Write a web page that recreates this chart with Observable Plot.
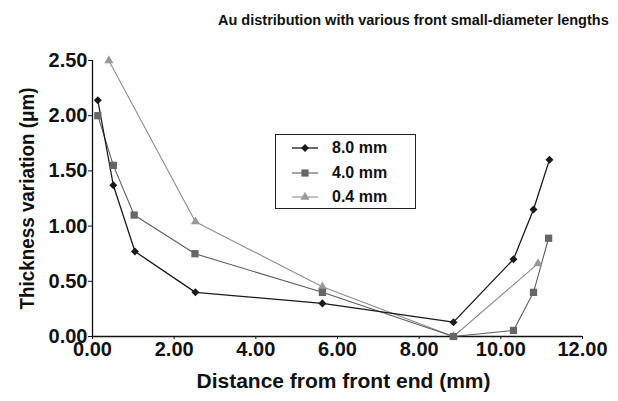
<!DOCTYPE html>
<html><head><meta charset="utf-8">
<script src="https://cdn.jsdelivr.net/npm/d3@7"></script>
<script src="https://cdn.jsdelivr.net/npm/@observablehq/plot@0.6"></script>
<style>
body{margin:0;background:#fff;font-family:"Liberation Sans",Arial,sans-serif;}
#wrap{position:relative;width:618px;height:401px;overflow:hidden;}
#title{height:40px;line-height:40px;font-size:14.5px;font-weight:bold;padding-left:218px;white-space:nowrap;color:#111;}
#legend{position:absolute;left:275px;top:134px;width:139px;height:73px;border:1px solid #222;background:#fff;}
.item{position:absolute;left:0;height:20px;display:flex;align-items:center;font-size:16px;font-weight:bold;color:#111;}
.item svg{margin-left:16px;margin-right:14px;}
</style></head><body>
<div id="wrap"><div id="title">Au distribution with various front small-diameter lengths</div><div id="chart"></div><div id="legend"></div></div>
<script>
const seriesNames = ["8.0 mm", "4.0 mm", "0.4 mm"];
const x8  = [0.13, 0.51, 1.04, 2.52, 5.63, 8.84, 10.31, 10.80, 11.19];
const y8  = [2.14, 1.37, 0.77, 0.40, 0.30, 0.13, 0.70, 1.15, 1.60];
const x4  = [0.13, 0.51, 1.02, 2.51, 5.63, 8.84, 10.31, 10.80, 11.17];
const y4  = [2.00, 1.55, 1.10, 0.75, 0.40, 0.00, 0.055, 0.40, 0.89];
const x04 = [0.40, 2.52, 5.63, 8.84, 10.91];
const y04 = [2.50, 1.04, 0.45, 0.00, 0.66];
const xTicks = [0, 2, 4, 6, 8, 10, 12];
const yTicks = [0, 0.5, 1, 1.5, 2, 2.5];
const xLabel = "Distance from front end (mm)";
const yLabel = "Thickness variation (\u03bcm)";

const toRows = (name, xs, ys) => xs.map((x, i) => ({series: name, x, y: ys[i]}));
const d8 = toRows(seriesNames[0], x8, y8);
const d4 = toRows(seriesNames[1], x4, y4);
const d04 = toRows(seriesNames[2], x04, y04);

const st = {
  "8.0 mm": {stroke: "#1a1a1a", fill: "#1a1a1a", sw: 1.3},
  "4.0 mm": {stroke: "#5e5e5e", fill: "#666666", sw: 1.1},
  "0.4 mm": {stroke: "#8e8e8e", fill: "#999999", sw: 1.1}
};

const chart = Plot.plot({
  width: 618, height: 361,
  marginLeft: 92, marginRight: 36, marginTop: 20, marginBottom: 65,
  style: {fontFamily: "Liberation Sans, Arial, sans-serif", fontWeight: "bold", fontSize: "20px", color: "#111", background: "white", overflow: "visible"},
  x: {domain: [0, 12], ticks: xTicks, tickFormat: d => d.toFixed(2), tickSize: 3, tickPadding: 2, label: null},
  y: {domain: [0, 2.5], ticks: yTicks, tickFormat: d => d.toFixed(2), tickSize: 4, tickPadding: 1, label: null},
  marks: [
    Plot.ruleY([0], {stroke: "#111", strokeWidth: 1.3}),
    Plot.ruleX([0], {stroke: "#111", strokeWidth: 1.3}),
    Plot.line(d04, {x: "x", y: "y", stroke: st["0.4 mm"].stroke, strokeWidth: st["0.4 mm"].sw}),
    Plot.line(d4, {x: "x", y: "y", stroke: st["4.0 mm"].stroke, strokeWidth: st["4.0 mm"].sw}),
    Plot.line(d8, {x: "x", y: "y", stroke: st["8.0 mm"].stroke, strokeWidth: st["8.0 mm"].sw}),
    Plot.dot(d04, {x: "x", y: "y", symbol: "triangle", r: 3.4, fill: st["0.4 mm"].fill}),
    Plot.dot(d4, {x: "x", y: "y", symbol: "square", r: 4.1, fill: st["4.0 mm"].fill}),
    Plot.dot(d8, {x: "x", y: "y", symbol: "square", r: 3.2, rotate: 45, fill: st["8.0 mm"].fill}),
    Plot.text([xLabel], {text: d => d, frameAnchor: "bottom", textAnchor: "middle", lineAnchor: "bottom", dy: 51, dx: 6, fontSize: 21, fontWeight: "bold", fill: "#111"}),
    Plot.text([yLabel], {text: d => d, frameAnchor: "left", textAnchor: "middle", lineAnchor: "middle", dx: -65, rotate: -90, fontSize: 20.5, fontWeight: "bold", fill: "#111", className: "ylabel"})
  ]
});
document.getElementById("chart").appendChild(chart);
// condense the vertical axis title to the reference's length
d3.select(chart).selectAll("text").filter(function() { return this.textContent === yLabel; })
  .attr("textLength", 222).attr("lengthAdjust", "spacingAndGlyphs");

// legend
const legend = document.getElementById("legend");
const symPath = {
  "8.0 mm": '<rect x="-2.8" y="-2.8" width="5.6" height="5.6" transform="rotate(45)"/>',
  "4.0 mm": '<rect x="-3.6" y="-3.6" width="7.2" height="7.2"/>',
  "0.4 mm": '<path d="' + d3.symbol(d3.symbolTriangle, 36)() + '"/>'
};
seriesNames.forEach((name, i) => {
  const item = document.createElement("div");
  item.className = "item";
  item.style.top = (3 + i * 24.5) + "px";
  const s = st[name];
  item.innerHTML = `<svg width="26" height="12" viewBox="0 -6 26 12"><line x1="0" x2="26" y1="0" y2="0" stroke="${s.stroke}" stroke-width="${s.sw}"/><g transform="translate(13,0)" fill="${s.fill}">${symPath[name]}</g></svg><span>${name}</span>`;
  legend.appendChild(item);
});
</script>
</body></html>
